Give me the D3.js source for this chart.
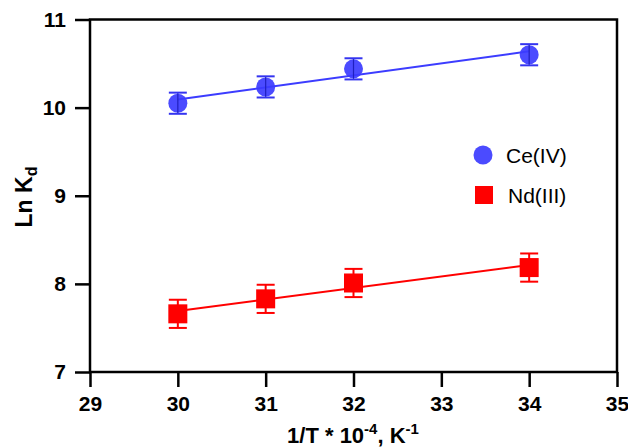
<!DOCTYPE html>
<html>
<head>
<meta charset="utf-8">
<script src="https://cdn.jsdelivr.net/npm/d3@7"></script>
<style>
  html, body { margin: 0; padding: 0; background: #fff; }
  svg { display: block; font-family: "Liberation Sans", Arial, sans-serif; }
</style>
</head>
<body>
<svg id="chart" width="628" height="447"></svg>
<script>
// ---- data ----
const xValues = [30, 31, 32, 34];
const ceValues = [10.05, 10.235, 10.44, 10.60];
const ceErrors = [0.12, 0.12, 0.12, 0.12];
const ndValues = [7.66, 7.83, 8.01, 8.185];
const ndErrors = [0.16, 0.16, 0.16, 0.16];
const xTicks = [29, 30, 31, 32, 33, 34, 35];
const yTicks = [7, 8, 9, 10, 11];
const seriesNames = ["Ce(IV)", "Nd(III)"];

// ---- layout ----
const W = 628, H = 447;
const L = 90, R = 617, T = 19.5, B = 372;
const svg = d3.select("#chart");

const x = d3.scaleLinear().domain([29, 35]).range([L, R]);
const y = d3.scaleLinear().domain([7, 11]).range([B, T]);

function fit(xs, ys) {
  const mx = d3.mean(xs), my = d3.mean(ys);
  let sxy = 0, sxx = 0;
  xs.forEach((v, i) => { sxy += (v - mx) * (ys[i] - my); sxx += (v - mx) * (v - mx); });
  const m = sxy / sxx;
  return v => my + m * (v - mx);
}

// axes
const yAxis = d3.axisLeft(y).tickValues(yTicks).tickSize(15).tickPadding(9).tickFormat(d3.format("d"));
const xAxis = d3.axisBottom(x).tickValues(xTicks).tickSize(15).tickPadding(9).tickFormat(d3.format("d"));

const gy = svg.append("g").attr("transform", `translate(${L},0)`).call(yAxis);
const gx = svg.append("g").attr("transform", `translate(0,${B})`).call(xAxis);
[gx, gy].forEach(g => {
  g.select(".domain").remove();
  g.selectAll(".tick line").attr("stroke", "#000").attr("stroke-width", 2.5);
  g.selectAll(".tick text").attr("fill", "#000").style("font-size", "21px").style("font-weight", "bold")
    .style("font-family", "'Liberation Sans', Arial, sans-serif");
});

// frame
svg.append("rect").attr("x", L).attr("y", T).attr("width", R - L).attr("height", B - T)
  .attr("fill", "none").attr("stroke", "#000").attr("stroke-width", 2.5);

// series
const series = [
  { name: seriesNames[0], vals: ceValues, errs: ceErrors, color: "#3c3cff", errColor: "#3434f0", shape: "circle" },
  { name: seriesNames[1], vals: ndValues, errs: ndErrors, color: "#ff0000", errColor: "#ff0000", shape: "square" }
];

series.forEach(s => {
  const f = fit(xValues, s.vals);
  svg.append("line")
    .attr("x1", x(xValues[0])).attr("y1", y(f(xValues[0])))
    .attr("x2", x(xValues[xValues.length - 1])).attr("y2", y(f(xValues[xValues.length - 1])))
    .attr("stroke", s.color).attr("stroke-width", 2);

  const g = svg.append("g");
  xValues.forEach((xv, i) => {
    const cx = x(xv), cy = y(s.vals[i]);
    const y1 = y(s.vals[i] + s.errs[i]), y2 = y(s.vals[i] - s.errs[i]);
    if (s.shape === "circle") {
      g.append("circle").attr("cx", cx).attr("cy", cy).attr("r", 9.5).attr("fill", s.color).attr("fill-opacity", 0.92);
    } else {
      g.append("rect").attr("x", cx - 9.5).attr("y", cy - 9.5).attr("width", 19).attr("height", 19).attr("fill", s.color);
    }
    g.append("line").attr("x1", cx).attr("x2", cx).attr("y1", y1).attr("y2", y2)
      .attr("stroke", s.shape === "circle" ? "#2020c0" : s.errColor).attr("stroke-width", s.shape === "circle" ? 1.2 : 2);
    [y1, y2].forEach(yy => {
      g.append("line").attr("x1", cx - 9).attr("x2", cx + 9).attr("y1", yy).attr("y2", yy)
        .attr("stroke", s.errColor).attr("stroke-width", 2);
    });
  });
});

// legend
const leg = svg.append("g");
leg.append("circle").attr("cx", 483).attr("cy", 155).attr("r", 9.5).attr("fill", series[0].color).attr("fill-opacity", 0.92);
leg.append("text").attr("x", 506).attr("y", 162.5).text(seriesNames[0]).style("font-size", "21px").attr("fill", "#000");
leg.append("rect").attr("x", 475).attr("y", 186).attr("width", 18).attr("height", 18).attr("fill", series[1].color);
leg.append("text").attr("x", 508).attr("y", 202.5).text(seriesNames[1]).style("font-size", "21px").attr("fill", "#000");

// axis titles
const xt = svg.append("text").attr("x", 353).attr("y", 443).attr("text-anchor", "middle")
  .style("font-size", "22px").style("font-weight", "bold").attr("fill", "#000");
xt.append("tspan").text("1/T * 10");
xt.append("tspan").attr("dy", -9).style("font-size", "15px").text("-4");
xt.append("tspan").attr("dy", 9).text(", K");
xt.append("tspan").attr("dy", -9).style("font-size", "15px").text("-1");

const yt = svg.append("text").attr("transform", "translate(32,197) rotate(-90)").attr("text-anchor", "middle")
  .style("font-size", "23px").style("font-weight", "bold").attr("fill", "#000");
yt.append("tspan").text("Ln K");
yt.append("tspan").attr("dy", 5).style("font-size", "16px").text("d");
</script>
</body>
</html>
